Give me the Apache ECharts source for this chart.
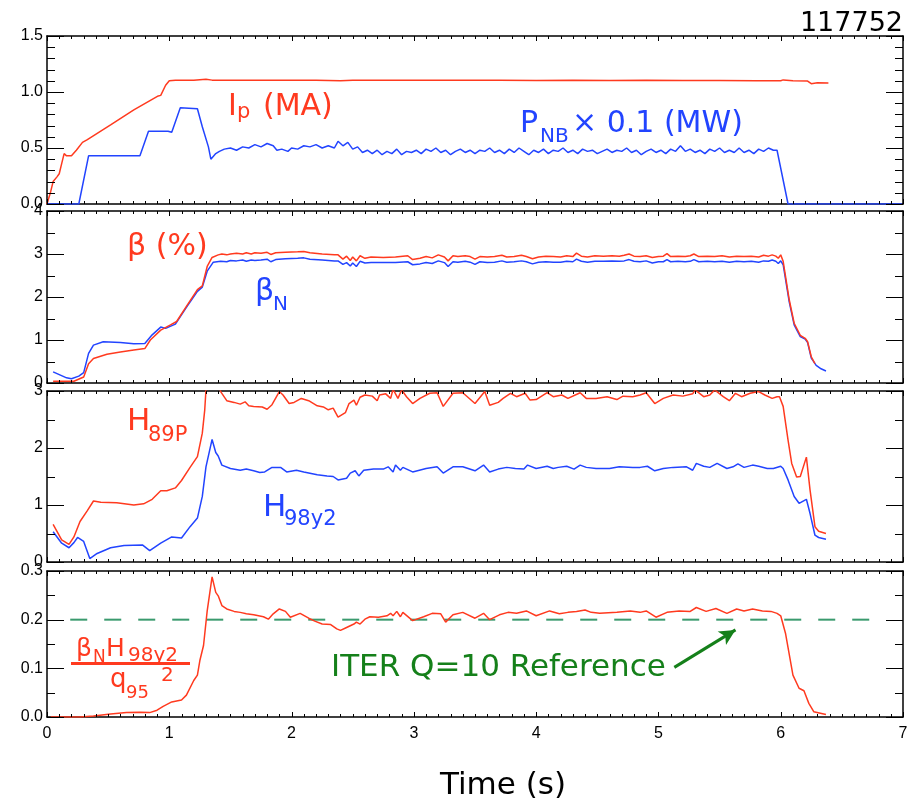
<!DOCTYPE html>
<html>
<head>
<meta charset="utf-8">
<script src="https://cdn.jsdelivr.net/npm/echarts@6/dist/echarts.min.js"></script>
<style>html,body{margin:0;padding:0;background:#fff}#c{width:916px;height:808px}</style>
</head>
<body>
<div id="c"></div>
<script>
// ---------- data (time in s, value) ----------
const ipData = [[0.0,0.0],[0.03,0.11],[0.05,0.2],[0.08,0.24],[0.1,0.27],[0.12,0.36],[0.14,0.45],[0.16,0.43],[0.2,0.43],[0.24,0.48],[0.29,0.55],[0.33,0.575],[0.52,0.706],[0.71,0.84],[0.91,0.965],[0.93,0.97],[0.97,1.06],[1.0,1.1],[1.05,1.105],[1.2,1.106],[1.3,1.114],[1.35,1.106],[1.6,1.104],[1.9,1.106],[2.2,1.104],[2.4,1.101],[2.5,1.105],[2.8,1.104],[3.1,1.106],[3.4,1.104],[3.7,1.105],[4.0,1.103],[4.3,1.105],[4.6,1.103],[4.9,1.104],[5.2,1.102],[5.5,1.103],[5.8,1.101],[6.0,1.101],[6.02,1.108],[6.1,1.1],[6.22,1.098],[6.25,1.074],[6.3,1.082],[6.39,1.081]];
const pnbData = [[0,0],[0.26,0],[0.34,0.43],[0.76,0.43],[0.83,0.65],[0.99,0.65],[1.02,0.64],[1.09,0.86],[1.23,0.85],[1.27,0.69],[1.32,0.51],[1.34,0.4],[1.38,0.45],[1.41,0.47],[1.45,0.49],[1.5,0.5],[1.55,0.48],[1.6,0.51],[1.65,0.5],[1.7,0.53],[1.75,0.51],[1.8,0.54],[1.85,0.52],[1.88,0.48],[1.92,0.49],[1.97,0.47],[2.0,0.5],[2.05,0.49],[2.1,0.52],[2.15,0.51],[2.2,0.53],[2.25,0.5],[2.3,0.52],[2.35,0.5],[2.38,0.56],[2.42,0.52],[2.46,0.55],[2.5,0.49],[2.54,0.51],[2.58,0.46],[2.62,0.48],[2.66,0.45],[2.7,0.48],[2.74,0.44],[2.78,0.47],[2.82,0.45],[2.86,0.49],[2.9,0.44],[2.94,0.47],[2.98,0.46],[3.02,0.48],[3.06,0.45],[3.1,0.49],[3.14,0.47],[3.18,0.5],[3.22,0.46],[3.26,0.48],[3.3,0.44],[3.34,0.47],[3.38,0.49],[3.42,0.46],[3.46,0.48],[3.5,0.45],[3.54,0.48],[3.58,0.47],[3.62,0.5],[3.66,0.46],[3.7,0.48],[3.74,0.45],[3.78,0.49],[3.82,0.46],[3.86,0.5],[3.9,0.47],[3.94,0.44],[3.98,0.48],[4.02,0.46],[4.06,0.49],[4.1,0.45],[4.14,0.48],[4.18,0.47],[4.22,0.5],[4.26,0.46],[4.3,0.48],[4.34,0.45],[4.38,0.49],[4.42,0.47],[4.46,0.48],[4.5,0.45],[4.54,0.47],[4.58,0.49],[4.62,0.46],[4.66,0.48],[4.7,0.47],[4.74,0.5],[4.78,0.46],[4.82,0.48],[4.86,0.44],[4.9,0.47],[4.94,0.49],[4.98,0.46],[5.02,0.48],[5.06,0.45],[5.1,0.49],[5.14,0.47],[5.18,0.52],[5.22,0.47],[5.26,0.49],[5.3,0.46],[5.34,0.48],[5.38,0.45],[5.42,0.49],[5.46,0.47],[5.5,0.5],[5.54,0.46],[5.58,0.48],[5.62,0.46],[5.66,0.5],[5.7,0.46],[5.74,0.48],[5.78,0.45],[5.82,0.49],[5.86,0.47],[5.9,0.5],[5.94,0.48],[5.97,0.48],[6.06,0],[6.99,0]];
const betaData = [[0.05,0.04],[0.22,0.04],[0.3,0.14],[0.34,0.45],[0.38,0.57],[0.49,0.67],[0.6,0.72],[0.71,0.77],[0.8,0.8],[0.845,1.0],[0.93,1.23],[1.01,1.35],[1.06,1.43],[1.14,1.78],[1.23,2.17],[1.27,2.26],[1.31,2.71],[1.35,2.92],[1.4,2.98],[1.43,3.0],[1.47,2.98],[1.5,3.0],[1.55,3.02],[1.6,3.0],[1.63,3.03],[1.67,3.0],[1.7,3.03],[1.75,3.02],[1.8,3.04],[1.83,2.99],[1.87,3.03],[1.95,3.04],[2.05,3.05],[2.1,3.06],[2.15,3.03],[2.25,3.0],[2.35,2.98],[2.38,2.98],[2.42,2.88],[2.45,2.95],[2.48,2.85],[2.5,2.93],[2.53,2.84],[2.56,2.96],[2.6,2.9],[2.65,2.93],[2.75,2.92],[2.85,2.93],[2.95,2.96],[2.99,2.87],[3.05,2.9],[3.1,2.94],[3.15,2.91],[3.2,2.98],[3.25,2.93],[3.28,2.84],[3.32,2.96],[3.36,2.94],[3.42,2.96],[3.46,2.94],[3.5,2.88],[3.54,2.94],[3.6,2.93],[3.66,2.94],[3.72,2.97],[3.76,2.93],[3.82,2.94],[3.88,2.97],[3.92,2.94],[3.97,2.89],[4.02,2.93],[4.08,2.95],[4.14,2.94],[4.2,2.93],[4.25,2.96],[4.3,2.94],[4.33,3.02],[4.37,2.95],[4.42,2.93],[4.48,2.96],[4.55,2.95],[4.62,2.96],[4.68,2.95],[4.72,2.97],[4.76,3.0],[4.8,2.95],[4.85,2.94],[4.9,2.96],[4.95,2.92],[5.0,2.94],[5.04,2.95],[5.07,3.01],[5.1,2.94],[5.16,2.95],[5.22,2.94],[5.26,2.96],[5.29,3.0],[5.33,2.94],[5.4,2.95],[5.46,2.94],[5.52,2.96],[5.58,2.93],[5.64,2.95],[5.7,2.94],[5.76,2.95],[5.82,2.93],[5.86,2.97],[5.9,2.95],[5.93,2.98],[5.96,2.95],[5.98,2.9],[6.0,2.98],[6.02,2.83],[6.07,1.93],[6.11,1.39],[6.16,1.11],[6.2,1.04],[6.22,0.96],[6.25,0.61],[6.28,0.45]];
const betaNData = [[0.05,0.26],[0.16,0.12],[0.2,0.1],[0.26,0.16],[0.3,0.24],[0.34,0.69],[0.38,0.88],[0.46,0.96],[0.6,0.94],[0.71,0.91],[0.8,0.92],[0.86,1.12],[0.93,1.3],[0.97,1.27],[1.05,1.37],[1.14,1.76],[1.23,2.13],[1.27,2.23],[1.31,2.6],[1.36,2.81],[1.42,2.83],[1.47,2.82],[1.5,2.85],[1.55,2.84],[1.6,2.86],[1.63,2.83],[1.67,2.86],[1.7,2.85],[1.75,2.86],[1.8,2.88],[1.83,2.82],[1.87,2.87],[1.95,2.89],[2.05,2.9],[2.1,2.91],[2.15,2.88],[2.25,2.86],[2.35,2.84],[2.38,2.84],[2.42,2.76],[2.45,2.8],[2.48,2.72],[2.5,2.79],[2.53,2.71],[2.56,2.83],[2.6,2.79],[2.65,2.8],[2.75,2.8],[2.85,2.8],[2.95,2.82],[2.99,2.75],[3.05,2.77],[3.1,2.8],[3.15,2.78],[3.2,2.84],[3.25,2.8],[3.28,2.71],[3.32,2.82],[3.36,2.81],[3.42,2.83],[3.46,2.81],[3.5,2.76],[3.54,2.82],[3.6,2.8],[3.66,2.81],[3.72,2.84],[3.76,2.81],[3.82,2.82],[3.88,2.84],[3.92,2.82],[3.97,2.77],[4.02,2.81],[4.08,2.82],[4.14,2.81],[4.2,2.81],[4.25,2.83],[4.3,2.82],[4.33,2.88],[4.37,2.83],[4.42,2.81],[4.48,2.83],[4.55,2.83],[4.62,2.84],[4.68,2.83],[4.72,2.84],[4.76,2.87],[4.8,2.83],[4.85,2.82],[4.9,2.84],[4.95,2.79],[5.0,2.82],[5.04,2.82],[5.07,2.87],[5.1,2.82],[5.16,2.83],[5.22,2.82],[5.26,2.83],[5.29,2.87],[5.33,2.82],[5.4,2.83],[5.46,2.82],[5.52,2.83],[5.58,2.81],[5.64,2.83],[5.7,2.82],[5.76,2.83],[5.82,2.81],[5.86,2.84],[5.9,2.83],[5.93,2.86],[5.96,2.83],[5.98,2.78],[6.0,2.84],[6.02,2.75],[6.07,1.88],[6.11,1.35],[6.16,1.08],[6.2,1.02],[6.22,0.94],[6.25,0.58],[6.29,0.41],[6.33,0.33],[6.37,0.28]];
const h89Data = [[0.05,0.66],[0.12,0.39],[0.18,0.31],[0.22,0.44],[0.27,0.71],[0.33,0.9],[0.38,1.07],[0.44,1.05],[0.57,1.04],[0.71,1.0],[0.79,1.02],[0.86,1.1],[0.93,1.25],[0.98,1.25],[1.05,1.3],[1.1,1.43],[1.17,1.66],[1.23,1.85],[1.27,2.26],[1.29,2.67],[1.3,3.02],[1.33,3.6],[1.37,3.5],[1.4,3.2],[1.42,2.99],[1.47,2.83],[1.53,2.8],[1.58,2.77],[1.62,2.81],[1.65,2.74],[1.69,2.73],[1.76,2.72],[1.8,2.68],[1.84,2.76],[1.9,2.99],[1.93,2.93],[1.98,2.78],[2.02,2.8],[2.08,2.87],[2.14,2.83],[2.21,2.74],[2.26,2.72],[2.3,2.67],[2.34,2.7],[2.38,2.54],[2.44,2.62],[2.47,2.78],[2.51,2.84],[2.53,2.75],[2.56,2.89],[2.6,2.93],[2.66,2.91],[2.7,2.83],[2.72,2.93],[2.77,2.95],[2.81,2.87],[2.83,3.03],[2.87,2.87],[2.9,3.02],[2.94,2.9],[2.99,2.78],[3.05,2.87],[3.13,2.96],[3.19,2.97],[3.24,2.73],[3.32,2.96],[3.4,2.97],[3.5,2.78],[3.58,2.99],[3.62,2.75],[3.69,2.8],[3.73,2.87],[3.79,2.96],[3.84,2.9],[3.91,2.96],[3.95,2.84],[4.0,2.85],[4.09,2.97],[4.14,2.9],[4.21,2.93],[4.26,2.87],[4.36,2.97],[4.41,2.87],[4.49,2.87],[4.58,2.9],[4.66,2.85],[4.71,2.91],[4.79,2.9],[4.85,2.93],[4.9,2.97],[4.97,2.78],[5.04,2.87],[5.12,2.93],[5.2,2.91],[5.28,2.95],[5.3,3.02],[5.37,2.9],[5.42,2.93],[5.46,3.02],[5.53,2.9],[5.58,2.83],[5.63,2.96],[5.68,2.9],[5.75,2.96],[5.82,2.99],[5.87,2.93],[5.93,2.87],[5.97,2.9],[5.99,2.9],[6.02,2.73],[6.06,2.14],[6.09,1.73],[6.13,1.49],[6.16,1.5],[6.21,1.84],[6.24,1.26],[6.28,0.62],[6.31,0.54],[6.37,0.5]];
const h98Data = [[0.05,0.53],[0.12,0.33],[0.18,0.25],[0.22,0.34],[0.25,0.43],[0.3,0.36],[0.35,0.06],[0.41,0.15],[0.52,0.25],[0.63,0.29],[0.78,0.3],[0.84,0.2],[0.93,0.33],[1.02,0.44],[1.1,0.42],[1.17,0.62],[1.23,0.77],[1.27,1.15],[1.3,1.67],[1.35,2.15],[1.38,1.92],[1.4,1.86],[1.43,1.7],[1.5,1.64],[1.58,1.61],[1.63,1.63],[1.69,1.6],[1.74,1.57],[1.78,1.58],[1.84,1.66],[1.91,1.66],[1.96,1.58],[2.04,1.61],[2.1,1.58],[2.21,1.53],[2.29,1.51],[2.34,1.5],[2.38,1.44],[2.45,1.47],[2.48,1.56],[2.52,1.6],[2.55,1.51],[2.59,1.61],[2.67,1.63],[2.75,1.63],[2.79,1.67],[2.83,1.58],[2.85,1.7],[2.89,1.61],[2.91,1.66],[2.99,1.58],[3.1,1.64],[3.19,1.67],[3.24,1.56],[3.32,1.67],[3.4,1.67],[3.5,1.6],[3.57,1.7],[3.62,1.58],[3.69,1.63],[3.76,1.66],[3.83,1.64],[3.9,1.63],[3.93,1.7],[4.0,1.64],[4.09,1.68],[4.14,1.64],[4.18,1.66],[4.25,1.68],[4.31,1.63],[4.36,1.7],[4.41,1.66],[4.49,1.64],[4.6,1.64],[4.68,1.67],[4.79,1.66],[4.85,1.66],[4.91,1.68],[4.97,1.6],[5.04,1.64],[5.12,1.66],[5.23,1.67],[5.28,1.61],[5.31,1.73],[5.37,1.68],[5.42,1.66],[5.48,1.73],[5.56,1.64],[5.61,1.67],[5.65,1.72],[5.7,1.66],[5.77,1.7],[5.82,1.68],[5.89,1.64],[5.94,1.64],[6.0,1.68],[6.02,1.64],[6.06,1.44],[6.11,1.15],[6.15,1.03],[6.21,1.1],[6.24,0.85],[6.28,0.47],[6.31,0.43],[6.37,0.4]];
const fomData = [[0.03,0.0],[0.27,0.0],[0.38,0.002],[0.52,0.006],[0.65,0.009],[0.76,0.01],[0.84,0.009],[0.9,0.014],[0.95,0.022],[1.02,0.031],[1.1,0.035],[1.14,0.045],[1.2,0.075],[1.23,0.086],[1.25,0.116],[1.28,0.147],[1.31,0.218],[1.35,0.288],[1.38,0.256],[1.4,0.249],[1.43,0.229],[1.47,0.222],[1.53,0.217],[1.58,0.215],[1.63,0.212],[1.69,0.21],[1.77,0.206],[1.81,0.201],[1.85,0.212],[1.9,0.222],[1.95,0.217],[1.99,0.205],[2.07,0.213],[2.14,0.203],[2.19,0.197],[2.25,0.191],[2.32,0.19],[2.37,0.181],[2.4,0.178],[2.45,0.184],[2.51,0.191],[2.53,0.195],[2.56,0.191],[2.6,0.201],[2.64,0.206],[2.71,0.205],[2.78,0.208],[2.81,0.213],[2.83,0.208],[2.86,0.217],[2.89,0.206],[2.91,0.215],[2.99,0.198],[3.08,0.206],[3.15,0.213],[3.22,0.212],[3.26,0.195],[3.32,0.21],[3.4,0.215],[3.5,0.203],[3.57,0.213],[3.62,0.2],[3.7,0.21],[3.77,0.215],[3.84,0.213],[3.92,0.218],[4.0,0.208],[4.11,0.218],[4.19,0.212],[4.26,0.215],[4.33,0.217],[4.4,0.22],[4.45,0.215],[4.52,0.213],[4.66,0.215],[4.77,0.218],[4.85,0.215],[4.9,0.218],[4.98,0.205],[5.07,0.215],[5.17,0.218],[5.26,0.217],[5.31,0.225],[5.39,0.217],[5.47,0.223],[5.56,0.213],[5.64,0.222],[5.7,0.218],[5.77,0.222],[5.85,0.218],[5.92,0.217],[5.97,0.213],[6.0,0.208],[6.04,0.171],[6.1,0.086],[6.15,0.059],[6.19,0.054],[6.23,0.028],[6.27,0.011],[6.37,0.005]];
const iterRef = [[0.19,0.2],[6.76,0.2]];
const arrowFrom = [5.13,0.102];
const arrowTo = [5.63,0.179];

// axis ranges per panel
const xMin = 0, xMax = 7, xInterval = 1, xMinorSplit = 10;
const yMins = [0, 0, 0, 0];
const yMaxs = [1.5, 4, 3, 0.3];
const yIntervals = [0.5, 1, 1, 0.1];
const yMinorSplits = [5, 2, 2, 2];
const yDecimals = [1, 0, 0, 1];
const xTickLabels = ['0','1','2','3','4','5','6','7'];

// ---------- layout ----------
const RED = '#ff3a1f', BLUE = '#2244ff', GREEN = '#15801a', DASH = '#3a9a6e';
const grids = [
  {left:47, right:13, top:36, height:168},
  {left:47, right:13, top:211, height:172},
  {left:47, right:13, top:391, height:171},
  {left:47, right:13, top:571, height:146}
];
const LBL = {color:'#000', fontFamily:'Liberation Sans', fontSize:16};
const xAxes = [], yAxes = [];
grids.forEach((g, i) => {
  ['bottom','top'].forEach(pos => {
    xAxes.push({
      gridIndex:i, type:'value', min:xMin, max:xMax, interval:xInterval, position:pos,
      axisLine:{show:true, onZero:false, lineStyle:{color:'#000', width:1.5}},
      axisTick:{show:false}, minorTick:{show:false},
      splitLine:{show:false},
      axisLabel:Object.assign({show: i===3 && pos==='bottom', margin:9,
        formatter: function (v) { const k = Math.round(Number(v)); return xTickLabels[k] !== undefined ? xTickLabels[k] : String(v); }}, LBL)
    });
  });
  ['left','right'].forEach(pos => {
    yAxes.push({
      gridIndex:i, type:'value', min:yMins[i], max:yMaxs[i], interval:yIntervals[i], position:pos,
      axisLine:{show:true, onZero:false, lineStyle:{color:'#000', width:1.5}},
      axisTick:{show:false}, minorTick:{show:false},
      splitLine:{show:false},
      axisLabel:Object.assign({show: pos==='left', margin:4,
        formatter: function (v) { return Number(v).toFixed(yDecimals[i]); }}, LBL)
    });
  });
});

// tick positions (in axis units) per panel: [kind, value, isMajor]; kind 0 = time axis, 1 = value axis
function tickList(i) {
  const list = [];
  const nx = Math.round((xMax - xMin) / xInterval * xMinorSplit);
  for (let k = 0; k <= nx; k++) list.push([0, xMin + k * xInterval / xMinorSplit, k % xMinorSplit === 0]);
  const ny = Math.round((yMaxs[i] - yMins[i]) / yIntervals[i] * yMinorSplits[i]);
  for (let k = 0; k <= ny; k++) list.push([1, yMins[i] + k * yIntervals[i] / yMinorSplits[i], k % yMinorSplits[i] === 0]);
  return list;
}
function tickSeries(i) {
  const ticks = tickList(i);
  return {
    type:'custom', coordinateSystem:'cartesian2d', xAxisIndex:i*2, yAxisIndex:i*2,
    silent:true, clip:false, z:4,
    data: ticks.map(() => [xMin, yMins[i]]),
    renderItem: function (params, api) {
      const t = ticks[params.dataIndex];
      const st = {stroke:'#000', lineWidth:1};
      if (t[0] === 0) {
        const len = t[2] ? 5 : 3;
        const b = api.coord([t[1], yMins[i]]), u = api.coord([t[1], yMaxs[i]]);
        const x = Math.round(b[0]) + 0.5;
        return {type:'group', children:[
          {type:'line', shape:{x1:x, y1:b[1], x2:x, y2:b[1] - len}, style:st},
          {type:'line', shape:{x1:x, y1:u[1], x2:x, y2:u[1] + len}, style:st}
        ]};
      } else {
        const len = t[2] ? 17 : 8;
        const l = api.coord([xMin, t[1]]), r = api.coord([xMax, t[1]]);
        const y = Math.round(l[1]) + 0.5;
        return {type:'group', children:[
          {type:'line', shape:{x1:l[0], y1:y, x2:l[0] + len, y2:y}, style:st},
          {type:'line', shape:{x1:r[0], y1:y, x2:r[0] - len, y2:y}, style:st}
        ]};
      }
    }
  };
}

function line(data, gi, color, extra) {
  return Object.assign({
    type:'line', data, xAxisIndex:gi*2, yAxisIndex:gi*2,
    showSymbol:false, clip:true, silent:true,
    lineStyle:{color, width:1.5}, z:3
  }, extra || {});
}

const series = [
  line(ipData, 0, RED),
  line(pnbData, 0, BLUE),
  line(betaNData, 1, BLUE),
  line(betaData, 1, RED),
  line(h98Data, 2, BLUE),
  line(h89Data, 2, RED),
  line(iterRef, 3, DASH, {lineStyle:{color:DASH, width:2, type:[17,17]}, z:2}),
  line(fomData, 3, RED, {
    markLine:{silent:true, symbol:['none','arrow'], symbolSize:[12,16], label:{show:false}, animation:false,
      lineStyle:{color:GREEN, width:3, type:'solid'},
      data:[[{coord:arrowFrom},{coord:arrowTo}]]}
  }),
  tickSeries(0), tickSeries(1), tickSeries(2), tickSeries(3)
];

// ---------- annotations ----------
const AF = 'DejaVu Sans';
function txt(x, baseline, size, text, color, align) {
  return {type:'text', x:x, y:baseline - 0.35*size, silent:true, z:10,
    style:{text:text, fontSize:size, fontFamily:AF, fill:color,
      align:align||'left', verticalAlign:'middle'}};
}
const graphics = [
  txt(228,118,30,'I',RED), txt(237,120,21,'p',RED), txt(263,118,30,'(MA)',RED),
  txt(520,135,30,'P',BLUE), txt(540,144,20,'NB',BLUE), txt(572,135,30,'× 0.1 (MW)',BLUE),
  txt(903,33,27,'117752','#000','right'),
  txt(127,258,30,'β (%)',RED),
  txt(255,303,30,'β',BLUE), txt(273,312,20,'N',BLUE),
  txt(127,433,31,'H',RED), txt(148,443,21,'89P',RED),
  txt(263,519,31,'H',BLUE), txt(284,527,21,'98y2',BLUE),
  txt(76,658,25,'β',RED), txt(93,664,17,'N',RED), txt(106,658,25,'H',RED), txt(128,663,20,'98y2',RED),
  {type:'rect', shape:{x:71, y:662, width:119, height:3}, style:{fill:RED}, silent:true, z:10},
  txt(110,689,26,'q',RED), txt(126,700,18,'95',RED), txt(161,683,20,'2',RED),
  txt(331,679,31,'ITER Q=10 Reference',GREEN),
  txt(440,797,31,'Time (s)','#000')
];

const chart = echarts.init(document.getElementById('c'));
chart.setOption({
  animation:false,
  grid:grids,
  xAxis:xAxes,
  yAxis:yAxes,
  series:series,
  graphic:graphics
});
</script>
</body>
</html>
